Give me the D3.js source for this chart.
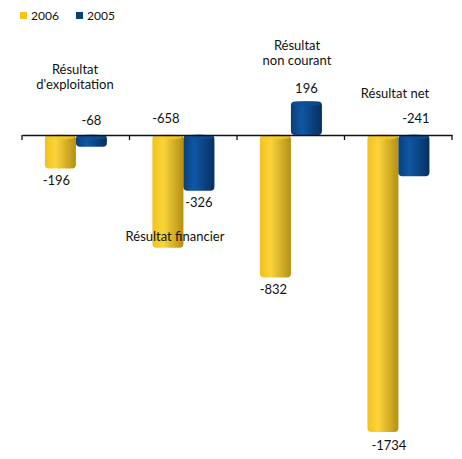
<!DOCTYPE html>
<html>
<head>
<meta charset="utf-8">
<script src="https://cdn.jsdelivr.net/npm/d3@7"></script>
<style>
  body { margin: 0; background: #fff; }
  text { font-family: Lato, "DejaVu Sans", sans-serif; fill: #111; }
</style>
</head>
<body>
<div id="chart"></div>
<script>
// data
const categories = ['exploitation', 'financier', 'noncourant', 'net'];
const categoryLabels = [["Résultat", "d'exploitation"], ["Résultat financier"], ["Résultat", "non courant"], ["Résultat net"]];
const seriesNames = ['2006', '2005'];
const values2006 = [-196, -658, -832, -1734];
const values2005 = [-68, -326, 196, -241];

const width = 462, height = 459;
const baseY = 135;

const svg = d3.select('#chart').append('svg')
    .attr('width', width)
    .attr('height', height);

const defs = svg.append('defs');
function grad(id, stops) {
    const g = defs.append('linearGradient').attr('id', id)
        .attr('x1', '0%').attr('x2', '100%').attr('y1', '0%').attr('y2', '0%');
    stops.forEach(s => g.append('stop').attr('offset', s[0]).attr('stop-color', s[1]));
}
grad('g2006', [['0%', '#f2c21c'], ['35%', '#fad43a'], ['100%', '#b38f15']]);
grad('g2005', [['0%', '#0a3f7a'], ['35%', '#0e58a3'], ['100%', '#072f5e']]);

// scales
const x0 = d3.scaleBand()
    .domain(categories)
    .range([22, 452])
    .paddingInner(0)
    .paddingOuter(0);

const x1 = d3.scaleBand()
    .domain(seriesNames)
    .range([x0.bandwidth() * 0.213, x0.bandwidth() * 0.79]);

const y = d3.scaleLinear()
    .domain([0, -1734])
    .range([baseY, 432]);

const colors = { '2006': 'url(#g2006)', '2005': 'url(#g2005)' };
const capColors = { '2006': '#f5cb2e', '2005': '#0c4f92' };

const rows = [];
categories.forEach((c, i) => {
    rows.push({ cat: c, s: '2006', v: values2006[i] });
    rows.push({ cat: c, s: '2005', v: values2005[i] });
});

// bars as cylinders
const bars = svg.append('g').selectAll('g.bar').data(rows).join('g').attr('class', 'bar');
const rx = 4;
bars.append('rect')
    .attr('x', d => x0(d.cat) + x1(d.s))
    .attr('y', d => Math.min(y(0), y(d.v)))
    .attr('width', x1.bandwidth())
    .attr('height', d => Math.abs(y(d.v) - y(0)))
    .attr('rx', rx)
    .attr('fill', d => colors[d.s]);
bars.append('ellipse')
    .attr('cx', d => x0(d.cat) + x1(d.s) + x1.bandwidth() / 2)
    .attr('cy', d => Math.min(y(0), y(d.v)) + 2)
    .attr('rx', x1.bandwidth() / 2 - 1)
    .attr('ry', 2.5)
    .attr('fill', d => capColors[d.s])
    .attr('opacity', 0.8);

// axis line + ticks
const axis = d3.axisBottom(x0).tickSize(0).tickFormat('');
svg.append('g')
    .attr('transform', `translate(0,${baseY})`)
    .call(axis)
    .call(g => g.select('.domain').attr('stroke', '#111').attr('stroke-width', 1.3));
svg.append('g').selectAll('line')
    .data(categories.concat(['end']))
    .join('line')
    .attr('x1', d => d === 'end' ? x0.range()[1] : x0(d))
    .attr('x2', d => d === 'end' ? x0.range()[1] : x0(d))
    .attr('y1', baseY)
    .attr('y2', baseY + 5)
    .attr('stroke', '#111')
    .attr('stroke-width', 1.3);

// value labels
const valuePos = [
    { s: '2006', i: 0, dx: -4, dy: 16 }, { s: '2005', i: 0, dx: 0, dy: -10 },
    { s: '2006', i: 1, dx: -2, dy: -12 }, { s: '2005', i: 1, dx: 0, dy: 16 },
    { s: '2006', i: 2, dx: -2, dy: 16 }, { s: '2005', i: 2, dx: 0, dy: -8 },
    { s: '2006', i: 3, dx: 6, dy: 18 }, { s: '2005', i: 3, dx: 2, dy: -12 }
];
svg.append('g').selectAll('text')
    .data(valuePos)
    .join('text')
    .attr('text-anchor', 'middle')
    .attr('font-size', 13)
    .attr('x', d => x0(categories[d.i]) + x1(d.s) + x1.bandwidth() / 2 + d.dx)
    .attr('y', d => {
        const v = d.s === '2006' ? values2006[d.i] : values2005[d.i];
        const end = y(v);
        if (d.dy < 0) return Math.min(end, baseY) + d.dy;
        return Math.max(end, baseY) + d.dy;
    })
    .text(d => d.s === '2006' ? values2006[d.i] : values2005[d.i]);

// category labels, one text element per line
const catPos = [[75, 74], [175, 241], [297, 50], [395, 98]];
const catLines = [];
categoryLabels.forEach((lines, i) => {
    lines.forEach((t, j) => catLines.push({ t, x: catPos[i][0], y: catPos[i][1] + j * 15 }));
});
svg.append('g').selectAll('text')
    .data(catLines)
    .join('text')
    .attr('text-anchor', 'middle')
    .attr('font-size', 13)
    .attr('x', d => d.x)
    .attr('y', d => d.y)
    .text(d => d.t);

// legend
const legend = svg.append('g').attr('transform', 'translate(20,11)');
seriesNames.forEach((s, i) => {
    const g = legend.append('g').attr('transform', `translate(${i * 56},0)`);
    g.append('rect').attr('width', 7).attr('height', 7).attr('y', 1)
        .attr('fill', s === '2006' ? '#f5c518' : '#0b3f7a');
    g.append('text').attr('x', 11).attr('y', 9).attr('font-size', 12).text(s);
});
</script>
</body>
</html>
